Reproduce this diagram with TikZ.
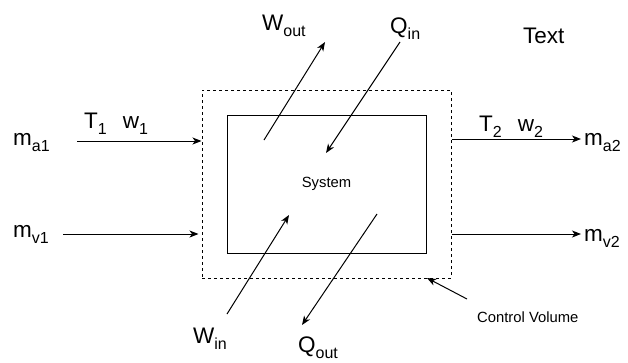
\documentclass[tikz,border=0pt]{standalone}
\usepackage{fontspec}
\setmainfont{Liberation Sans}
\usetikzlibrary{arrows.meta}
\newcommand{\lsub}[1]{\raisebox{-6pt}{\fontsize{16}{16}\selectfont #1}}
\begin{document}
\begin{tikzpicture}[x=1pt,y=-1pt,
  big/.style={inner sep=0pt,font=\fontsize{22.5}{22.5}\selectfont},
  small/.style={inner sep=0pt,font=\fontsize{14.8}{14.8}\selectfont},
  arr/.style={line width=1pt,-{Stealth[length=9pt,width=7pt,inset=2.5pt]}},
  ln/.style={line width=1pt}]
\useasboundingbox[fill=white] (0,0) rectangle (628,362);
% boxes
\node[draw,dash pattern=on 3pt off 3pt,line width=1pt,minimum width=249pt,minimum height=188pt,inner sep=0pt] (cv) at (326.5,184) {};
\node[draw,line width=1pt,minimum width=199pt,minimum height=138pt,inner sep=0pt,small] (sys) at (326.5,184) {System};
% left inputs
\node[big,anchor=base west] (ma1) at (13,145) {m\lsub{a1}};
\node[big,anchor=base west] (tw1) at (84,128) {T\lsub{1}\hspace{16pt}w\lsub{1}};
\coordinate (a1s) at (77,141);
\draw[arr] (a1s) -- (a1s -| cv.west);
\node[big,anchor=base west] (mv1) at (13,237) {m\lsub{v1}};
\coordinate (v1s) at (63,234);
\draw[arr,shorten >=3pt] (v1s) -- (v1s -| cv.west);
% right outputs
\node[big,anchor=base west] (ma2) at (584,145) {m\lsub{a2}};
\node[big,anchor=base west] (tw2) at (479,131) {T\lsub{2}\hspace{16pt}w\lsub{2}};
\coordinate (a2e) at (581,139);
\draw[arr] (a2e -| cv.east) -- (a2e);
\node[big,anchor=base west] (mv2) at (584,241) {m\lsub{v2}};
\coordinate (v2e) at (581,234);
\draw[arr] (v2e -| cv.east) -- (v2e);
% work and heat
\node[big,anchor=base west] (wout) at (262,30) {W\lsub{out}};
\coordinate (wos) at (264,140);
\coordinate (woe) at (325,42);
\draw[arr] (wos) -- (woe);
\node[big,anchor=base west] (qin) at (390,33) {Q\lsub{in}};
\coordinate (qis) at (400,42);
\coordinate (qie) at (326,153);
\draw[arr] (qis) -- (qie);
\node[big,anchor=base west] (win) at (193,343) {W\lsub{in}};
\coordinate (wis) at (227,314);
\coordinate (wie) at (289,215);
\draw[arr] (wis) -- (wie);
\node[big,anchor=base west] (qout) at (298,352) {Q\lsub{out}};
\coordinate (qos) at (377,214);
\coordinate (qoe) at (302,325);
\draw[arr] (qos) -- (qoe);
% labels
\node[big,anchor=base west] (txt) at (523,43) {Text};
\node[small,anchor=base west] (cvl) at (477,322) {Control Volume};
\coordinate (cvs) at (467,299);
\coordinate (cve) at (427,278);
\draw[arr] (cvs) -- (cve);
\end{tikzpicture}
\end{document}
